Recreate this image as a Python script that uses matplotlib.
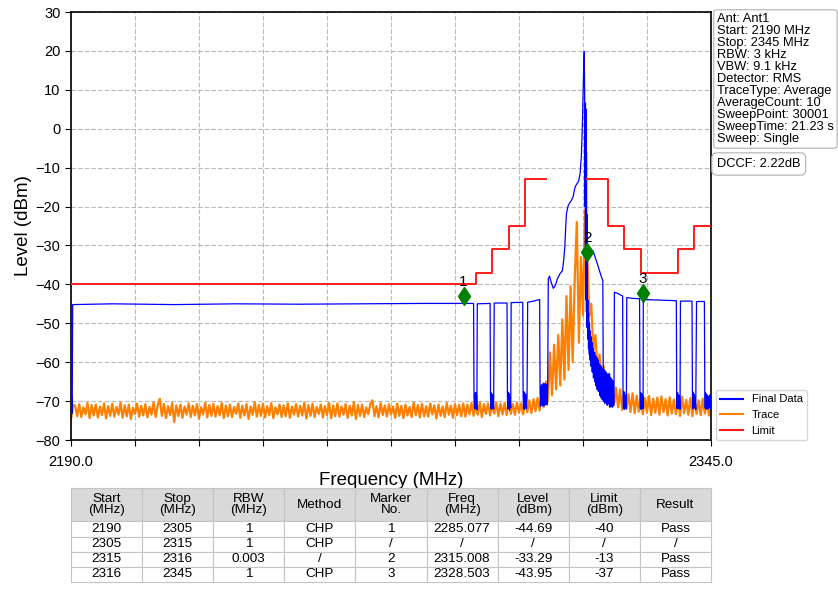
import numpy as np
import matplotlib
matplotlib.use("Agg")
import matplotlib.pyplot as plt
from matplotlib.lines import Line2D

plt.rcParams['font.family'] = ['Liberation Sans', 'DejaVu Sans']

# ---------------- data ----------------
f_start, f_stop = 2190.0, 2345.0

# Trace (orange), sweep points evenly spaced over the span
trace_level = [
    -74.8, -71.0,
    -71.2, -73.9, -70.8, -74.1, -71.6, -73.4, -70.5, -74.4, -71.0, -73.7,
    -70.9, -74.2, -71.4, -73.6, -70.6, -74.5, -71.3, -73.8, -70.7, -74.0,
    -71.5, -73.5, -70.4, -74.3, -71.1, -73.9, -70.9, -74.6, -71.7, -73.3,
    -70.6, -74.0, -71.2, -73.7, -70.8, -74.2, -71.5, -73.5, -70.3, -74.1,
    -71.0, -69.4, -73.8, -70.7, -74.4, -71.3, -73.6, -70.5, -75.4, -71.1,
    -73.9, -70.9, -74.3, -71.4, -73.5, -70.6, -74.1, -71.2, -73.7, -70.8,
    -74.5, -71.6, -73.4, -70.4, -74.2, -71.0, -73.8, -70.7, -74.0, -71.3,
    -73.6, -70.5, -74.4, -71.1, -73.9, -70.9, -74.1, -71.5, -73.3, -70.6,
    -74.3, -71.2, -73.7, -70.8, -74.6, -71.4, -73.5, -70.3, -74.0, -71.0,
    -73.8, -70.7, -74.2, -71.3, -73.6, -70.5, -74.4, -71.6, -73.4, -70.9,
    -74.1, -71.1, -73.9, -70.6, -74.3, -71.4, -73.5, -70.8, -74.0, -71.2,
    -73.7, -70.4, -74.5, -71.0, -73.8, -70.7, -74.1, -71.5, -73.3, -70.9,
    -74.2, -71.3, -73.6, -70.5, -74.4, -71.1, -73.9, -70.6, -74.0, -71.4,
    -73.5, -70.8, -74.3, -71.2, -73.7, -70.3, -74.6, -71.0, -73.8, -70.9,
    -74.1, -71.6, -73.4, -70.7, -69.8, -73.9, -71.3, -74.2, -70.5, -73.6,
    -71.1, -74.0, -70.8, -73.5, -71.4, -74.3, -70.6, -73.8, -71.2, -74.4,
    -70.9, -73.7, -71.5, -74.1, -70.4, -73.6, -71.0, -74.2, -70.7, -73.9,
    -71.3, -74.0, -70.6, -73.4, -71.1, -74.5, -70.9, -73.8, -71.4, -74.1,
    -70.5, -73.5, -71.2, -74.3, -70.8, -73.6, -71.0, -73.9, -70.6, -74.0,
    -70.9, -73.4, -70.5, -73.8, -71.1, -73.5, -70.4, -74.1, -70.8, -73.3,
    -70.6, -73.7, -70.9, -73.2, -70.3, -73.9, -70.7, -73.4, -70.5, -73.6,
    -70.2, -73.3, -70.8, -73.5, -70.4, -73.0, -70.6, -73.4, -70.1, -72.9,
    -69.8, -73.1, -69.5, -72.6, -69.2, -72.4,
    -67.5, -71.5, -65.0, -70.0, -57.5, -68.5, -55.5, -67.0, -53.0, -66.0,
    -49.0, -64.5, -43.0, -62.0, -40.5, -60.0, -38.5, -24.0, -55.0, -33.0,
    -48.0, -21.0, -30.5, -48.0, -45.0, -57.0, -53.0, -62.0, -58.0, -65.5,
    -61.0, -68.0, -63.5, -70.0, -65.0, -71.0,
    -66.5, -71.6, -67.0, -72.3, -67.8, -72.0, -68.2, -72.8, -68.0, -73.1,
    -68.6, -72.7, -68.9, -73.4, -69.2, -72.9, -68.7, -73.6, -69.4, -73.0,
    -69.1, -73.5, -68.8, -72.8, -69.5, -73.7, -69.0, -73.2, -69.6, -73.4,
    -69.3, -73.8, -68.9, -73.1, -69.7, -73.5, -69.2, -73.9, -69.5, -73.3,
    -69.8, -73.6, -69.4, -73.2, -69.9, -73.7, -70.2,
]

# Final Data (blue), channel-power segments
final_freq = [
    2190.00, 2190.05, 2190.10, 2190.15, 2190.20, 2190.25, 2190.30, 2190.40,
    2200.0, 2215.0, 2230.0, 2245.0, 2260.0, 2275.0, 2287.5,
    2287.6, 2287.7, 2287.8, 2287.9, 2288.0, 2288.1, 2288.2, 2288.3, 2288.4,
    2291.5,
    2291.6, 2291.7, 2291.8, 2291.9, 2292.0, 2292.1, 2292.2, 2292.35, 2292.5,
    2295.6,
    2295.7, 2295.8, 2295.9, 2296.0, 2296.1, 2296.2, 2296.35, 2296.5, 2296.6,
    2299.4,
    2299.5, 2299.6, 2299.7, 2299.8, 2299.9, 2300.0, 2300.15, 2300.3, 2300.45, 2300.6,
    2302.0, 2303.5,
    2303.6, 2303.7, 2303.8, 2303.9, 2304.0, 2304.1, 2304.2, 2304.3, 2304.4, 2304.5,
    2304.6, 2304.7, 2304.8, 2304.9, 2305.0, 2305.1, 2305.2, 2305.3, 2305.45,
    2305.6, 2305.9, 2306.3, 2306.8, 2307.3, 2307.8, 2308.4, 2309.0, 2309.3, 2309.6,
    2309.8, 2310.0, 2310.4, 2310.7, 2311.2, 2311.6, 2311.9, 2312.1, 2312.5, 2312.9,
    2313.3, 2313.6, 2313.8, 2314.0, 2314.15, 2314.3, 2314.4, 2314.5, 2314.8, 2315.0,
    2315.5, 2316.0, 2316.5, 2317.0, 2317.5, 2318.0, 2318.5, 2318.8,
    2318.9, 2319.2, 2319.6, 2320.0, 2320.4, 2320.8, 2321.2, 2321.5, 2321.6,
    2322.5, 2323.6,
    2323.7, 2323.8, 2323.9, 2324.0, 2324.1, 2324.2, 2324.35, 2324.5, 2324.6,
    2326.0, 2327.7,
    2327.8, 2327.9, 2328.0, 2328.1, 2328.2, 2328.3, 2328.45, 2328.55, 2328.6,
    2331.0, 2334.0, 2336.6,
    2336.7, 2336.8, 2336.9, 2337.0, 2337.1, 2337.2, 2337.35, 2337.5, 2337.6,
    2339.0, 2340.4,
    2340.5, 2340.6, 2340.7, 2340.8, 2340.9, 2341.0, 2341.15, 2341.3, 2341.5,
    2343.4,
    2343.5, 2343.6, 2343.7, 2343.8, 2343.9, 2344.0, 2344.15, 2344.3, 2344.45,
    2344.6, 2344.75, 2344.9, 2345.0,
]
final_level = [
    -70.5, -73.0, -68.8, -72.6, -69.5, -73.2, -70.2, -45.2,
    -45.0, -45.2, -45.0, -45.1, -45.0, -44.9, -44.9,
    -69.0, -71.8, -68.0, -72.0, -67.8, -71.5, -68.5, -72.2, -45.0,
    -44.9,
    -68.8, -71.9, -67.9, -72.1, -68.2, -71.6, -68.6, -72.0, -44.8,
    -44.8,
    -69.0, -72.0, -67.7, -71.8, -68.1, -72.3, -68.9, -71.7, -44.7,
    -44.6,
    -68.7, -71.8, -67.6, -72.1, -68.0, -71.5, -68.4, -72.0, -68.9, -44.6,
    -44.3, -43.9,
    -67.5, -71.4, -66.2, -71.0, -65.8, -70.8, -66.5, -71.3, -65.4, -70.6,
    -66.0, -71.2, -65.5, -70.4, -66.3, -70.9, -65.7, -71.0, -66.0,
    -38.5, -37.9, -39.5, -41.0, -40.3, -38.6, -37.3, -36.5, -34.0, -30.3,
    -25.5, -21.7, -19.8, -19.2, -18.4, -17.5, -16.0, -14.9, -14.2, -13.6,
    -11.5, -7.0, -1.0, 8.0, 15.0, 19.8, 8.0, -12.0, -25.0, -31.0,
    -31.2, -31.0, -31.6, -33.2, -34.8, -36.5, -38.2, -39.0,
    -62.0, -68.0, -63.0, -70.0, -64.0, -71.0, -65.0, -70.5, -42.0,
    -42.4, -43.0,
    -68.8, -71.9, -67.6, -72.1, -68.3, -71.7, -68.7, -72.0, -43.4,
    -43.6, -43.7,
    -68.5, -71.8, -67.9, -72.2, -68.1, -71.6, -68.8, -72.0, -43.9,
    -44.0, -44.1, -44.2,
    -68.9, -71.9, -67.8, -72.0, -68.4, -71.5, -68.6, -72.1, -44.3,
    -44.3, -44.3,
    -68.6, -72.0, -67.7, -71.9, -68.2, -71.6, -68.9, -72.2, -44.4,
    -44.4,
    -68.7, -71.8, -67.9, -72.1, -68.3, -71.7, -68.5, -72.0, -68.8,
    -71.6, -68.4, -72.1, -70.0,
]

# Final Data (blue), narrow-RBW segment around the carrier
raw_freq = [
    2314.55, 2314.58, 2314.62, 2314.66, 2314.70, 2314.74, 2314.78, 2314.82, 2314.86, 2314.90,
    2314.95, 2315.00, 2315.10, 2315.20, 2315.30, 2315.40, 2315.50, 2315.60, 2315.70, 2315.80,
    2315.90, 2316.00, 2316.15, 2316.30, 2316.45, 2316.60, 2316.75, 2316.90, 2317.05, 2317.20,
    2317.35, 2317.50, 2317.65, 2317.80, 2317.95, 2318.10, 2318.25, 2318.40, 2318.55, 2318.70,
    2318.85, 2319.00, 2319.15, 2319.30, 2319.45, 2319.60, 2319.75, 2319.90, 2320.05, 2320.20,
    2320.35, 2320.50, 2320.65, 2320.80, 2320.95, 2321.10, 2321.25, 2321.40,
]
raw_level = [
    6.5, -20.0, 5.0, -33.0, 1.0, -40.0, -6.0, -44.0, -22.0, -47.0,
    -38.0, -51.0, -44.0, -54.0, -47.5, -56.5, -50.0, -58.0, -52.0, -59.5,
    -53.5, -61.0, -55.0, -62.5, -56.5, -64.0, -57.5, -65.0, -58.5, -66.0,
    -59.0, -67.0, -59.5, -67.5, -60.5, -68.5, -61.0, -69.0, -61.5, -69.5,
    -62.0, -70.0, -62.0, -70.5, -62.5, -70.0, -63.0, -71.0, -63.5, -70.5,
    -63.0, -71.5, -64.0, -71.0, -64.5, -71.5, -65.0, -71.0,
]

# Limit (red), two masks
limit_left_freq = [2190, 2288, 2292, 2296, 2300, 2305]
limit_left_level = [-40, -37, -31, -25, -13, -13]
limit_right_freq = [2315, 2320, 2324, 2328, 2337, 2341, 2345]
limit_right_level = [-13, -25, -31, -37, -31, -25, -25]

# markers
marker_freq = [2285.077, 2315.008, 2328.503]
marker_y = [-43.0, -31.6, -42.3]
marker_names = ['1', '2', '3']

y_ticks = [-80, -70, -60, -50, -40, -30, -20, -10, 0, 10, 20, 30]

info_lines = ["Ant: Ant1", "Start: 2190 MHz", "Stop: 2345 MHz", "RBW: 3 kHz",
              "VBW: 9.1 kHz", "Detector: RMS", "TraceType: Average",
              "AverageCount: 10", "SweepPoint: 30001", "SweepTime: 21.23 s",
              "Sweep: Single"]
dccf_text = "DCCF: 2.22dB"

table_header = ["Start\n(MHz)", "Stop\n(MHz)", "RBW\n(MHz)", "Method", "Marker\nNo.",
                "Freq\n(MHz)", "Level\n(dBm)", "Limit\n(dBm)", "Result"]
table_rows = [
    ["2190", "2305", "1", "CHP", "1", "2285.077", "-44.69", "-40", "Pass"],
    ["2305", "2315", "1", "CHP", "/", "/", "/", "/", "/"],
    ["2315", "2316", "0.003", "/", "2", "2315.008", "-33.29", "-13", "Pass"],
    ["2316", "2345", "1", "CHP", "3", "2328.503", "-43.95", "-37", "Pass"],
]

# ---------------- figure ----------------
W, H = 838, 589
fig = plt.figure(figsize=(W / 100, H / 100), dpi=100)
ax = fig.add_axes([71 / W, 1 - 440 / H, 640 / W, 428 / H])

trace_freq = np.linspace(f_start, f_stop, len(trace_level))
c_blue, c_orange, c_red = '#0000ff', '#ff8000', '#ff1a1a'

ax.plot(trace_freq, trace_level, color=c_orange, lw=1.6, zorder=2)
ax.plot(final_freq, final_level, color=c_blue, lw=0.9, zorder=3)
ax.plot(raw_freq, raw_level, color=c_blue, lw=1.3, zorder=3)
ax.plot(limit_left_freq, limit_left_level, color=c_red, lw=1.4, drawstyle='steps-post', zorder=4)
ax.plot(limit_right_freq, limit_right_level, color=c_red, lw=1.4, drawstyle='steps-post', zorder=4)

ax.plot(marker_freq, marker_y, linestyle='none', marker='d', markersize=9.5,
        color='#008000', zorder=6)
for fx, fy, nm in zip(marker_freq, marker_y, marker_names):
    ax.annotate(nm, (fx, fy), xytext=(0, 5), textcoords='offset points',
                ha='center', va='bottom', fontsize=11, color='black', zorder=7)

ax.set_xlim(f_start, f_stop)
ax.set_ylim(-80, 30)
xt = np.linspace(f_start, f_stop, 11)
ax.set_xticks(xt)
ax.set_xticklabels([f"{f_start:.1f}"] + [""] * 9 + [f"{f_stop:.1f}"])
ax.set_yticks(y_ticks)
ax.tick_params(labelsize=10.5, direction='out', length=4)
ax.tick_params(axis='x', pad=7)
ax.grid(True, color='#b8b8b8', linestyle=(0, (4, 2)), linewidth=0.8)
ax.set_axisbelow(True)
ax.set_xlabel("Frequency (MHz)", fontsize=13.5, labelpad=2)
ax.set_ylabel("Level (dBm)", fontsize=13.5, labelpad=3)
for s in ax.spines.values():
    s.set_linewidth(1.2)

handles = [Line2D([], [], color=c_blue, lw=1.5),
           Line2D([], [], color=c_orange, lw=1.5),
           Line2D([], [], color=c_red, lw=1.5)]
fig.legend(handles, ["Final Data", "Trace", "Limit"], loc='lower left',
           bbox_to_anchor=(716 / W, 1 - 440 / H), borderaxespad=0, fontsize=8,
           frameon=True, handlelength=2.0)

fig.text(717 / W, 1 - 13 / H, "\n".join(info_lines), ha='left', va='top',
         fontsize=9.3, linespacing=1.0,
         bbox=dict(boxstyle='round,pad=0.25', fc='white', ec='#b0b0b0', lw=0.8))
fig.text(717 / W, 1 - 158 / H, dccf_text, ha='left', va='top', fontsize=9.3,
         bbox=dict(boxstyle='round,pad=0.4', fc='white', ec='#b0b0b0', lw=0.8))

# table
tax = fig.add_axes([71 / W, 1 - 582 / H, 640 / W, 94 / H])
tax.axis('off')
tbl = tax.table(cellText=table_rows, colLabels=table_header, cellLoc='center',
                bbox=[0, 0, 1, 1])
tbl.auto_set_font_size(False)
tbl.set_fontsize(9.7)
for (r, c), cell in tbl.get_celld().items():
    cell.set_edgecolor('#c4c4c4')
    cell.set_linewidth(0.8)
    if r == 0:
        cell.set_height(33)
        cell.set_facecolor('#d9d9d9')
        cell.get_text().set_linespacing(0.95)
    else:
        cell.set_height(15)

fig.savefig("out.png", dpi=100)
